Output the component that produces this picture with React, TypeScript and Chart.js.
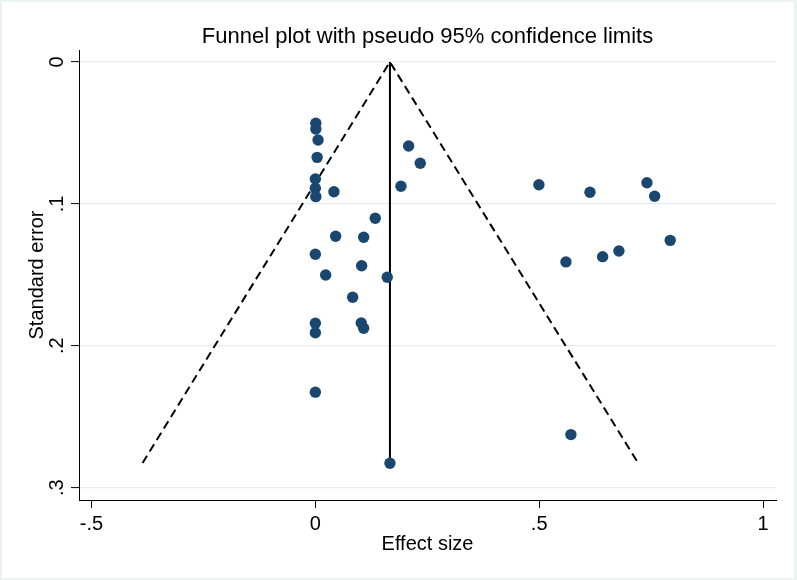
import React, { useEffect, useRef } from 'react';
import { Chart, registerables } from 'chart.js';

Chart.register(...registerables);

const chartTitle = 'Funnel plot with pseudo 95% confidence limits';
const xAxisTitle = 'Effect size';
const yAxisTitle = 'Standard error';

const effectSize = [
  0.001, 0.001, 0.006, 0.004, 0.0, 0.0, 0.001, 0.0415, 0.2084, 0.2343,
  0.1912, 0.1338, 0.0453, 0.1079, 0.0, 0.1034, 0.023, 0.1606, 0.0833, 0.0,
  0.0, 0.1025, 0.1079, 0.0, 0.1666, 0.5709, 0.4994, 0.6134, 0.7407, 0.7579,
  0.7927, 0.5598, 0.6417, 0.6781,
];
const standardError = [
  0.0432, 0.0472, 0.055, 0.0672, 0.0825, 0.089, 0.0949, 0.0914, 0.0592, 0.0714,
  0.0876, 0.1101, 0.1228, 0.1235, 0.1355, 0.1436, 0.1501, 0.1517, 0.1658, 0.1841,
  0.1908, 0.1839, 0.1877, 0.2327, 0.2828, 0.2626, 0.0865, 0.0918, 0.0851, 0.0946,
  0.1257, 0.1409, 0.1372, 0.1332,
];

const funnelX = [-0.386, 0.1666, 0.721];
const funnelSE = [0.2826, 0, 0.2826];
const pooledX = [0.1666, 0.1666];
const pooledSE = [0, 0.2826];

const xTickValues = [-0.5, 0, 0.5, 1];
const xTickLabels = ['-.5', '0', '.5', '1'];
const yTickValues = [0, 0.1, 0.2, 0.3];
const yTickLabels = ['0', '.1', '.2', '.3'];

const FONT = "'Liberation Sans', Arial, Helvetica, sans-serif";

export default function App() {
  const canvasRef = useRef<HTMLCanvasElement | null>(null);

  useEffect(() => {
    document.body.style.margin = '0';
    const canvas = canvasRef.current;
    if (!canvas) return;

    const framePlugin = {
      id: 'frame',
      beforeDraw(chart: any) {
        const { ctx, width, height } = chart;
        ctx.save();
        ctx.fillStyle = '#eaf2f3';
        ctx.fillRect(0, 0, width, height);
        ctx.fillStyle = '#ffffff';
        ctx.fillRect(2, 2, width - 5, height - 4);
        ctx.restore();
      },
      afterDraw(chart: any) {
        const { ctx, chartArea } = chart;
        const yScale = chart.scales.y;
        ctx.save();
        ctx.fillStyle = '#000000';
        ctx.font = `22px ${FONT}`;
        ctx.textAlign = 'center';
        ctx.textBaseline = 'alphabetic';
        ctx.fillText(chartTitle, (chartArea.left + chartArea.right) / 2, 43);
        ctx.font = `20px ${FONT}`;
        yTickValues.forEach((v, i) => {
          const py = yScale.getPixelForValue(v);
          ctx.save();
          ctx.translate(62.5, py);
          ctx.rotate(-Math.PI / 2);
          ctx.textAlign = 'center';
          ctx.textBaseline = 'alphabetic';
          ctx.fillText(yTickLabels[i], 0, 0);
          ctx.restore();
        });
        ctx.save();
        ctx.translate(43, (chartArea.top + chartArea.bottom) / 2);
        ctx.rotate(-Math.PI / 2);
        ctx.textAlign = 'center';
        ctx.textBaseline = 'alphabetic';
        ctx.fillText(yAxisTitle, 0, 0);
        ctx.restore();
        ctx.restore();
      },
    };

    const chart = new Chart(canvas, {
      type: 'scatter',
      data: {
        datasets: [
          {
            label: 'Studies',
            data: effectSize.map((x, i) => ({ x, y: standardError[i] })),
            backgroundColor: '#1a476f',
            borderWidth: 0,
            pointRadius: 5.7,
            pointHoverRadius: 5.7,
            showLine: false,
          },
          {
            label: 'Pseudo 95% CI',
            data: funnelX.map((x, i) => ({ x, y: funnelSE[i] })),
            showLine: true,
            borderColor: '#000000',
            borderWidth: 2,
            borderDash: [8.5, 5],
            pointRadius: 0,
            fill: false,
          },
          {
            label: 'Pooled',
            data: pooledX.map((x, i) => ({ x, y: pooledSE[i] })),
            showLine: true,
            borderColor: '#000000',
            borderWidth: 2,
            pointRadius: 0,
            fill: false,
          },
        ],
      },
      options: {
        animation: false,
        responsive: true,
        maintainAspectRatio: false,
        layout: { padding: { left: 0, right: 21, top: 50, bottom: 0 } },
        plugins: {
          legend: { display: false },
          title: { display: false },
          tooltip: { enabled: false },
        },
        scales: {
          x: {
            type: 'linear',
            min: -0.528,
            max: 1.029,
            afterBuildTicks: (scale: any) => {
              scale.ticks = xTickValues.map((v) => ({ value: v }));
            },
            afterFit: (scale: any) => {
              scale.height = 80;
            },
            ticks: {
              color: '#000000',
              font: { family: FONT, size: 20 },
              padding: 4,
              maxRotation: 0,
              minRotation: 0,
              callback: (value: any) => {
                const idx = xTickValues.indexOf(Number(value));
                return idx >= 0 ? xTickLabels[idx] : '';
              },
            },
            grid: {
              drawOnChartArea: false,
              drawTicks: true,
              tickLength: 8,
              tickColor: '#000000',
              tickWidth: 1,
            },
            border: { display: true, color: '#000000', width: 1 },
            title: {
              display: true,
              text: xAxisTitle,
              color: '#000000',
              font: { family: FONT, size: 20 },
              padding: { top: 0, bottom: 24 },
            },
          },
          y: {
            type: 'linear',
            reverse: true,
            min: -0.00846,
            max: 0.3087,
            afterBuildTicks: (scale: any) => {
              scale.ticks = yTickValues.map((v) => ({ value: v }));
            },
            afterFit: (scale: any) => {
              scale.width = 79;
            },
            ticks: { display: false },
            grid: {
              color: '#e4ecef',
              lineWidth: 1.2,
              drawTicks: true,
              tickLength: 8,
              tickColor: '#000000',
              tickWidth: 1,
            },
            border: { display: true, color: '#000000', width: 1 },
            title: { display: false },
          },
        },
      },
      plugins: [framePlugin],
    });

    return () => {
      chart.destroy();
    };
  }, []);

  return (
    <div style={{ width: 797, height: 580, position: 'relative' }}>
      <canvas ref={canvasRef} />
    </div>
  );
}
